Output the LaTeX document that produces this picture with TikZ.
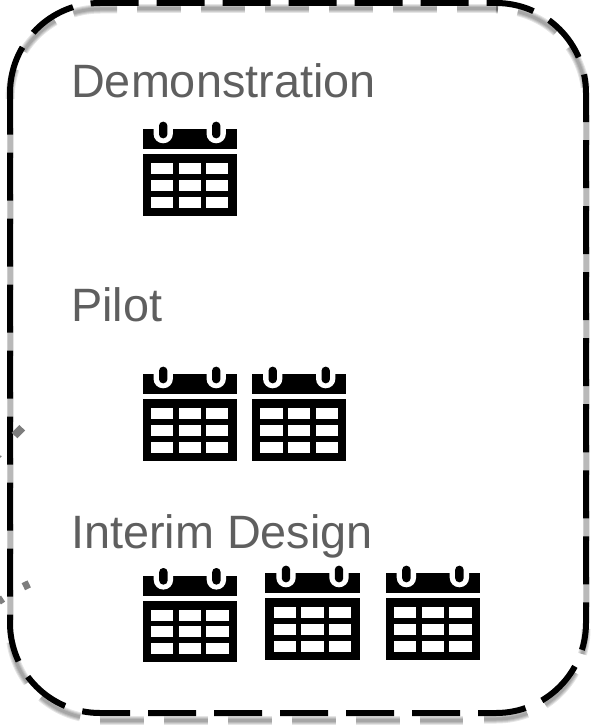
\documentclass[tikz,border=0pt]{standalone}
\usepackage{fontspec}
\setmainfont{Liberation Sans}
\usepackage{xcolor}
\definecolor{labelgray}{RGB}{95,95,95}
\definecolor{markgray}{RGB}{125,125,125}

\tikzset{
    frameline/.style={line width=6pt,dash pattern=on 48pt off 18pt},
    frameglow/.style={draw=black,opacity=0.10,dash pattern=on 44pt off 20pt},
    gapglow/.style={draw=black,opacity=0.10,dash pattern=on 30pt off 36pt},
    heading/.style={anchor=base west,inner sep=0pt,text=labelgray,font=\fontsize{46.8}{50}\selectfont},
    stray/.style={draw=markgray,line width=7pt},
    calicon/.pic={
        \fill[black] (0,0) rectangle (94.4,20);
        \fill[black] (0,25) rectangle (94.4,86.7);
        \foreach \rx in {20.7,73.7} {
            \fill[white] (\rx-9.7,-1) -- (\rx-9.7,4.4) arc[start angle=180,end angle=360,x radius=9.7,y radius=-9.6] -- (\rx+9.7,-1) -- cycle;
            \fill[black,rounded corners=4pt] (\rx-4.2,-7.6) rectangle (\rx+4.2,9);
        }
        \foreach \cx in {8.4,36,63.7} {
            \foreach \cy in {34,50.7,67.4} {
                \fill[white] (\cx,\cy) rectangle +(22.2,11);
            }
        }
    }
}

\begin{document}
\begin{tikzpicture}[x=1pt,y=-1pt]
    \useasboundingbox (0,0) rectangle (590,725);

    % soft shadow under the frame
    \foreach \w in {3,5,7,9} {
        \begin{scope}[line width=\w pt]
            \draw[frameglow,dash phase=13.6pt] (10,99) arc[start angle=180,end angle=270,radius=90] -- (117,9);
            \draw[frameglow] (137,9) -- (498,9);
            \draw[frameglow,dash phase=42pt] (496,9) arc[start angle=-90,end angle=0,radius=90];
            \draw[frameglow,dash phase=18.6pt] (586,629) arc[start angle=0,end angle=90,radius=90] -- (484,719);
            \draw[frameglow] (100,720) -- (463,720);
            \draw[frameglow,dash phase=44pt] (100,719) arc[start angle=90,end angle=180,radius=90];
        \end{scope}
    }
    \foreach \w in {5,6,7} {
        \draw[gapglow,line width=\w pt] (10,128) -- (10,630);
        \draw[gapglow,line width=\w pt] (586,115) -- (586,625);
    }

    % frame
    \draw[frameline] (10,93) arc[start angle=180,end angle=270,radius=90] -- (496,3)
        arc[start angle=-90,end angle=0,radius=90] -- (586,623)
        arc[start angle=0,end angle=90,radius=90] -- (100,713)
        arc[start angle=90,end angle=180,radius=90] -- cycle;

    % cut off marks at the left edge
    \draw[stray,line width=8pt] (14.5,435.5) -- (22.2,427.7);
    \draw[stray,line width=6.5pt] (24.6,581.8) -- (28,588.8);
    \draw[stray,line width=5pt] (-1,597) -- (3,603);
    \draw[stray,line width=2pt] (0,456) -- (1,457);

    \node (demo) [heading] at (71,97) {Demonstration};
    \node (pilot) [heading] at (71,321) {Pilot};
    \node (interim) [heading] at (71,548) {Interim Design};

    \pic at (142.5,129.3) {calicon};

    \foreach \x in {142.5,252} {
        \pic at (\x,374.3) {calicon};
    }

    \pic at (142.7,575.6) {calicon};
    \foreach \x in {265.3,385.7} {
        \pic at (\x,573.3) {calicon};
    }

\end{tikzpicture}
\end{document}
